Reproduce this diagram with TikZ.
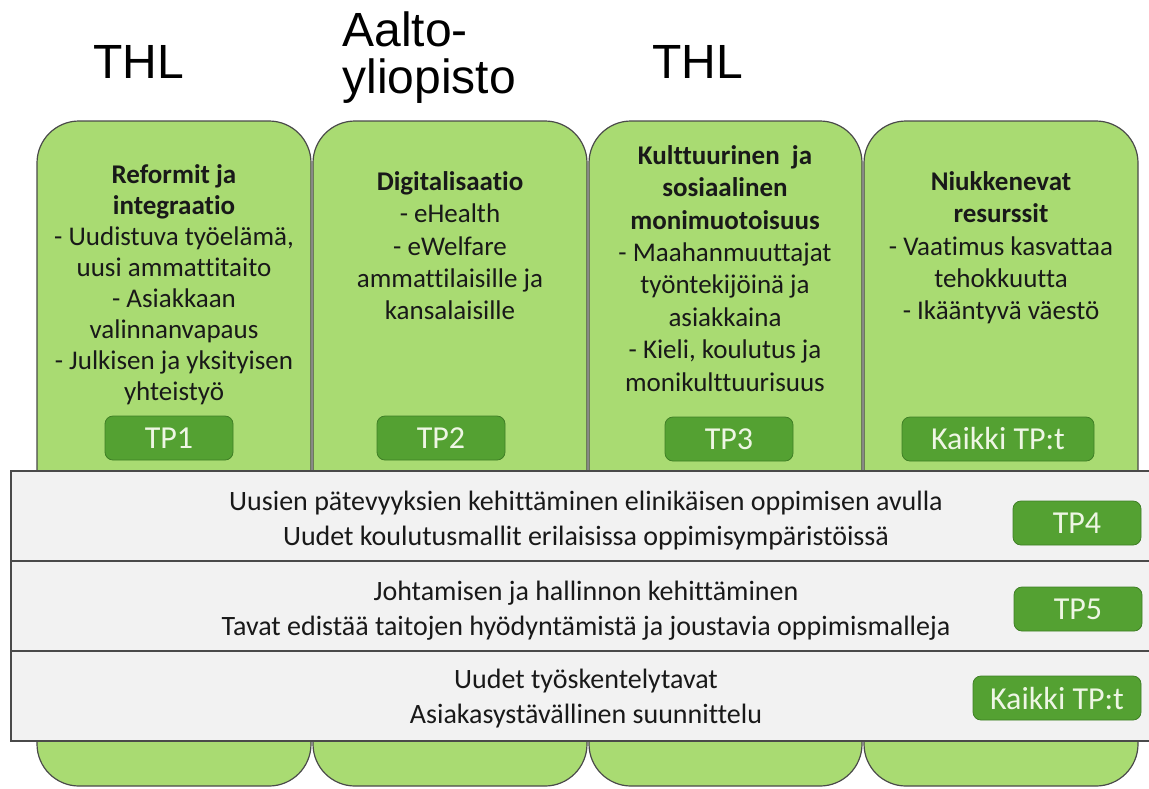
\documentclass[tikz,border=0pt]{standalone}
\usepackage{fontspec}
\setmainfont[Ligatures=NoCommon]{Carlito}
\newfontfamily\arialfont{Liberation Sans}
\usetikzlibrary{positioning}

\definecolor{colgreen}{HTML}{A9DB72}
\definecolor{tpgreen}{HTML}{54A132}
\definecolor{tpline}{HTML}{3F7F26}
\definecolor{tptext}{HTML}{EEF6E4}
\definecolor{bandgray}{HTML}{F2F2F2}
\definecolor{edgegray}{HTML}{4A4A4A}

\begin{document}
\begin{tikzpicture}[x=0.5pt,y=-0.5pt]
                \tikzset{column/.style={draw=edgegray, fill=colgreen, line width=0.6pt, rounded corners=21pt},
                band/.style={draw=edgegray, fill=bandgray, line width=0.8pt},
                tpbox/.style={draw=tpline, fill=tpgreen, rounded corners=4pt, text=tptext, minimum height=22pt,
                    inner sep=0pt, font=\fontsize{16}{18}\selectfont},
                coltext/.style={align=center, anchor=north, inner sep=0pt, text=black!90,
                    font=\fontsize{13.5}{16.2}\selectfont},
                bandtext/.style={align=center, inner sep=0pt, text=black!90,
                    font=\fontsize{14}{17.5}\selectfont},
                org/.style={inner sep=0pt, align=left, font=\arialfont\fontsize{24}{23.5}\selectfont}}

                \clip (0,0) rectangle (1149,788);
                \fill[white] (0,0) rectangle (1149,788);

                \node[org, anchor=base west] (thlA) at (93,78) {THL};
                \node[org, anchor=north west] (aalto) at (342,11) {Aalto-\\yliopisto};
                \node[org, anchor=base west] (thlB) at (652,78) {THL};

                % columns
                \draw[column] (37,121) rectangle (311,786);
                \draw[column] (313,121) rectangle (587,786);
                \draw[column] (589,121) rectangle (862,786);
                \draw[column] (864,121) rectangle (1138,786);

                \node[coltext, font=\fontsize{13.5}{15.5}\selectfont] (reform) at (174,164) {\textbf{Reformit ja}\\\textbf{integraatio}\\- Uudistuva työelämä,\\uusi ammattitaito\\- Asiakkaan\\valinnanvapaus\\- Julkisen ja yksityisen\\yhteistyö};
                \node[coltext] (digi) at (450,171) {\textbf{Digitalisaatio}\\- eHealth\\- eWelfare\\ammattilaisille ja\\kansalaisille};
                \node[coltext] (kult) at (725,145) {\textbf{Kulttuurinen\ \ ja}\\\textbf{sosiaalinen}\\\textbf{monimuotoisuus}\\- Maahanmuuttajat\\työntekijöinä ja\\asiakkaina\\- Kieli, koulutus ja\\monikulttuurisuus};
                \node[coltext] (niuk) at (1001,171) {\textbf{Niukkenevat}\\\textbf{resurssit}\\- Vaatimus kasvattaa\\tehokkuutta\\- Ikääntyvä väestö};

                \node[tpbox, minimum width=64pt] (tpA) at (169,438) {TP1};
                \node[tpbox, minimum width=64pt] (tpB) at (441,438) {TP2};
                \node[tpbox, minimum width=64pt] (tpC) at (729,439) {TP3};
                \node[tpbox, minimum width=96pt] (tpAll) at (998,439) {Kaikki TP:t};

                % bands
                \draw[band] (11,471) rectangle (1160,561);
                \draw[band] (11,561) rectangle (1160,651);
                \draw[band] (11,651) rectangle (1160,741);

                \node[bandtext] (learn) at (586,521) {Uusien pätevyyksien kehittäminen elinikäisen oppimisen avulla\\Uudet koulutusmallit erilaisissa oppimisympäristöissä};
                \node[bandtext] (lead) at (586,611) {Johtamisen ja hallinnon kehittäminen\\Tavat edistää taitojen hyödyntämistä ja joustavia oppimismalleja};
                \node[bandtext] (work) at (586,699) {Uudet työskentelytavat\\Asiakasystävällinen suunnittelu};

                \node[tpbox, minimum width=64pt] (tpD) at (1077,523) {TP4};
                \node[tpbox, minimum width=64pt] (tpE) at (1078,609) {TP5};
                \node[tpbox, minimum width=84pt] (tpAll2) at (1057,698) {Kaikki TP:t};
\end{tikzpicture}
\end{document}
